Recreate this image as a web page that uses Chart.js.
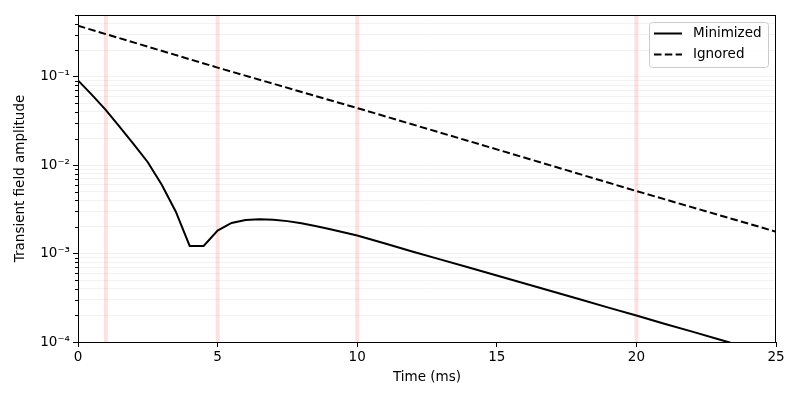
<!DOCTYPE html>
<html>
<head>
<meta charset="utf-8">
<script src="https://cdn.jsdelivr.net/npm/chart.js@4/dist/chart.umd.min.js"></script>
<style>
  html, body { margin: 0; padding: 0; background: #fff; }
</style>
</head>
<body>
<canvas id="myChart" width="800" height="400"></canvas>
<script>
// data
var minTimes = [0, 0.5, 1, 1.5, 2, 2.5, 3, 3.5, 4, 4.5, 5, 5.5, 6, 6.5, 7, 7.5, 8, 8.5, 9, 9.5, 10,
                11, 12, 13, 14, 15, 16, 17, 18, 19, 20, 21, 22, 23, 24, 25]
var minimized = [0.091, 0.0625, 0.042, 0.027, 0.0172, 0.0108, 0.0060, 0.0030, 0.00122, 0.00122,
                 0.00182, 0.00222, 0.00240, 0.00245, 0.00242, 0.00233, 0.00220, 0.00205, 0.00190, 0.00174, 0.00160,
                 0.00130, 0.00105, 0.000855, 0.000695, 0.000565, 0.000458, 0.000372, 0.000302, 0.000245, 0.000199,
                 0.000161, 0.000131, 0.000106, 0.000086, 0.000070]
var ignTimes = [0, 5, 10, 15, 20, 25]
var ignored = [0.378, 0.127, 0.0443, 0.0151, 0.00510, 0.00177]
var markerTimes = [1, 5, 10, 20]
var xTicks = [0, 5, 10, 15, 20, 25]

var FONT = 'DejaVu Sans'
var sup = { '-': '\u207B', '0': '\u2070', '1': '\u00B9', '2': '\u00B2', '3': '\u00B3', '4': '\u2074',
            '5': '\u2075', '6': '\u2076', '7': '\u2077', '8': '\u2078', '9': '\u2079' }

function isDecade(v) {
    var l = Math.log10(v)
    return Math.abs(l - Math.round(l)) < 1e-6
}

function pairs(xs, ys) {
    return xs.map(function (x, i) { return { x: x, y: ys[i] } })
}

var extras = {
    id: 'extras',
    beforeDatasetsDraw: function (chart) {
        var ctx = chart.ctx, a = chart.chartArea, xs = chart.scales.x
        ctx.save()
        ctx.strokeStyle = 'rgba(255, 0, 0, 0.12)'
        ctx.lineWidth = 4
        markerTimes.forEach(function (t) {
            var px = xs.getPixelForValue(t)
            ctx.beginPath()
            ctx.moveTo(px, a.top)
            ctx.lineTo(px, a.bottom)
            ctx.stroke()
        })
        ctx.restore()
    },
    afterDraw: function (chart) {
        var ctx = chart.ctx, a = chart.chartArea, ys = chart.scales.y
        ctx.save()
        // frame
        ctx.strokeStyle = '#000'
        ctx.lineWidth = 1
        ctx.strokeRect(a.left + 0.5, a.top + 0.5, a.right - a.left - 1, a.bottom - a.top)
        // minor y ticks
        ys.ticks.forEach(function (t) {
            if (isDecade(t.value)) return
            var py = Math.round(ys.getPixelForValue(t.value)) + 0.5
            ctx.beginPath()
            ctx.moveTo(a.left - 3, py)
            ctx.lineTo(a.left, py)
            ctx.stroke()
        })
        // legend box
        var bx = 649.5, by = 22.5, bw = 119, bh = 45, r = 3
        ctx.fillStyle = 'rgba(255,255,255,0.8)'
        ctx.strokeStyle = '#cccccc'
        ctx.beginPath()
        ctx.roundRect(bx, by, bw, bh, r)
        ctx.fill()
        ctx.stroke()
        ctx.font = '13.5px ' + FONT
        ctx.textBaseline = 'middle'
        chart.data.datasets.forEach(function (ds, i) {
            var ly = 33.5 + i * 21
            ctx.strokeStyle = ds.borderColor
            ctx.lineWidth = ds.borderWidth
            ctx.setLineDash(ds.borderDash || [])
            ctx.beginPath()
            ctx.moveTo(654, ly)
            ctx.lineTo(682, ly)
            ctx.stroke()
            ctx.setLineDash([])
            ctx.fillStyle = '#000'
            ctx.fillText(ds.label, 693, ly)
        })
        ctx.restore()
    }
}

var ctx = document.getElementById('myChart')
var myChart = new Chart(ctx, {
    type: 'line',
    data: {
        datasets: [{
            label: 'Minimized',
            data: pairs(minTimes, minimized),
            borderColor: '#000',
            borderWidth: 2,
            pointRadius: 0,
            tension: 0,
            fill: false
        }, {
            label: 'Ignored',
            data: pairs(ignTimes, ignored),
            borderColor: '#000',
            borderWidth: 2,
            borderDash: [7.5, 3.3],
            pointRadius: 0,
            tension: 0,
            fill: false
        }]
    },
    options: {
        responsive: false,
        animation: false,
        devicePixelRatio: 1,
        layout: { padding: { top: 15, right: 24, left: 0, bottom: 0 } },
        plugins: {
            legend: { display: false },
            tooltip: { enabled: false }
        },
        scales: {
            x: {
                type: 'linear',
                min: 0,
                max: 25,
                afterBuildTicks: function (s) { s.ticks = xTicks.map(function (v) { return { value: v } }) },
                afterFit: function (s) { s.height = 58 },
                grid: { drawOnChartArea: false, drawTicks: true, tickLength: 5, tickColor: '#000' },
                border: { color: '#000', width: 1 },
                ticks: { color: '#000', font: { family: FONT, size: 13.5 }, padding: 2, maxRotation: 0 },
                title: { display: true, text: 'Time (ms)', color: '#000', font: { family: FONT, size: 13.5 }, padding: { top: 4, bottom: 14 } }
            },
            y: {
                type: 'logarithmic',
                min: 1e-4,
                max: 0.5,
                afterBuildTicks: function (s) {
                    var t = []
                    for (var e = -4; e <= -1; e++) {
                        for (var m = 1; m <= 9; m++) {
                            var v = parseFloat((m * Math.pow(10, e)).toPrecision(6))
                            if (v <= 0.5) t.push({ value: v })
                        }
                    }
                    s.ticks = t
                },
                afterFit: function (s) { s.width = 78 },
                grid: {
                    drawOnChartArea: true,
                    color: 'rgba(0,0,0,0.05)',
                    lineWidth: 1,
                    drawTicks: true,
                    tickLength: 5,
                    tickColor: function (c) { return isDecade(c.tick.value) ? '#000' : 'rgba(0,0,0,0)' }
                },
                border: { color: '#000', width: 1 },
                ticks: {
                    color: '#000',
                    font: { family: FONT, size: 13.5 },
                    padding: 3,
                    autoSkip: false,
                    callback: function (v) {
                        if (!isDecade(v)) return ''
                        var e = String(Math.round(Math.log10(v)))
                        return '10' + e.split('').map(function (c) { return sup[c] }).join('')
                    }
                },
                title: { display: true, text: 'Transient field amplitude', color: '#000', font: { family: FONT, size: 13.5 }, padding: { top: 12, bottom: 4 } }
            }
        }
    },
    plugins: [extras]
})
</script>
</body>
</html>
